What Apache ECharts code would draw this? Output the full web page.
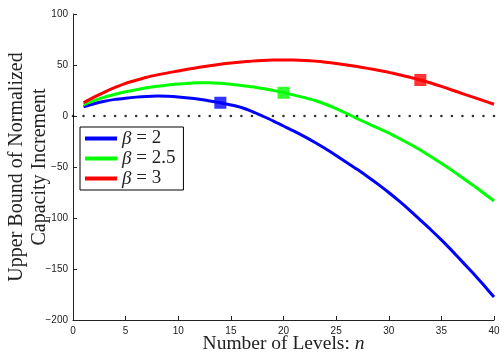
<!DOCTYPE html>
<html>
<head>
<meta charset="utf-8">
<script src="https://cdn.jsdelivr.net/npm/echarts@6/dist/echarts.min.js"></script>
<style>html,body{margin:0;padding:0;background:#fff}#c{width:502px;height:355px}</style>
</head>
<body>
<div id="c"></div>
<script>
var levels = [1,2,3,4,5,6,7,8,9,10,11,12,13,14,15,16,17,18,19,20,21,22,23,24,25,26,27,28,29,30,31,32,33,34,35,36,37,38,39,40];
var beta2 = [9,12,14.5,16.3,17.5,18.5,19.2,19.5,19.3,18.7,17.7,16.4,14.8,13,10.8,8.3,4.5,0,-4.7,-9.8,-14.8,-20.2,-26,-32.2,-38.8,-45.5,-52.3,-59.5,-67,-75,-83.5,-92.5,-102,-111.5,-121.5,-132,-143,-154,-165.5,-177.5];
var beta25 = [11,15,18.5,21.3,23.8,25.8,27.6,29.1,30.3,31.3,32,32.5,32.5,32,31.2,30,28.7,27,25.1,22.8,20.5,18,15.2,11.5,7.3,2.5,-2.5,-7.3,-12,-16.5,-22,-27.5,-33.3,-39.7,-46.4,-53.3,-60.5,-67.8,-75.5,-83.3];
var beta3 = [13,18.5,23.5,28,32,35,38,40.3,42.3,44.2,46,47.7,49.3,50.8,52,53,53.8,54.4,54.8,55,54.9,54.5,53.8,52.8,51.5,50.1,48.5,46.7,44.8,42.8,40.5,38,35.3,32.3,29,25.5,22,18.5,15,11.5];
var seriesNames = ['β = 2', 'β = 2.5', 'β = 3'];
var markerN = [14, 20, 33];
var zeroRefN = [0,1,2,3,4,5,6,7,8,9,10,11,12,13,14,15,16,17,18,19,20,21,22,23,24,25,26,27,28,29,30,31,32,33,34,35,36,37,38,39,40];
var xTicks = [0,5,10,15,20,25,30,35,40];
var yTicks = [-200,-150,-100,-50,0,50,100];
var colors = ['#0000ff', '#00ff00', '#ff0000'];
var allSeries = [beta2, beta25, beta3];

function pairs(xs, ys){ return xs.map(function(x,i){return [x, ys[i]];}); }

var series = [];
series.push({
  type: 'scatter', name: 'zero', data: zeroRefN.map(function(n){return [n, 0];}),
  symbol: 'circle', symbolSize: 2.6, itemStyle: {color: '#000'}, silent: true, z: 1
});
allSeries.forEach(function(vals, i){
  series.push({
    type: 'line', name: seriesNames[i], data: pairs(levels, vals),
    showSymbol: false, symbol: 'none', smooth: 0.2, lineStyle: {width: 3, color: colors[i]},
    itemStyle: {color: colors[i]}, z: 3, animation: false
  });
});
allSeries.forEach(function(vals, i){
  var idx = levels.indexOf(markerN[i]);
  series.push({
    type: 'scatter', name: 'm' + i, data: [[markerN[i], vals[idx]]],
    symbol: 'rect', symbolSize: 12, itemStyle: {color: colors[i]}, z: 4
  });
});

var chart = echarts.init(document.getElementById('c'), null, {renderer: 'canvas'});
var axisColor = '#222';
chart.setOption({
  animation: false,
  backgroundColor: '#fff',
  grid: {left: 73, right: 8, top: 14, bottom: 35, containLabel: false, outerBoundsMode: 'none'},
  legend: {
    data: seriesNames.map(function(n, i){ return {name: n, icon: 'rect', itemStyle: {color: colors[i]}}; }),
    orient: 'vertical', left: 80, top: 127,
    itemWidth: 32, itemHeight: 4, itemGap: 1,
    backgroundColor: '#fff', borderColor: '#000', borderWidth: 1, borderRadius: 0,
    padding: [2, 8, 2, 5],
    selectedMode: false,
    formatter: function(name){
      var rest = name.substring(1);
      return '{b|β}{t|' + rest + '}';
    },
    textStyle: {
      rich: {
        b: {fontFamily: 'Liberation Serif', fontSize: 19, fontStyle: 'italic', color: '#222', lineHeight: 19},
        t: {fontFamily: 'Liberation Serif', fontSize: 19, color: '#222', lineHeight: 19}
      }
    }
  },
  xAxis: {
    type: 'value', min: 0, max: 40, interval: 5,
    name: '{a|Number of Levels: }{i|n}', nameLocation: 'middle', nameGap: 14, nameMoveOverlap: false,
    nameTextStyle: {rich: {
      a: {fontFamily: 'Liberation Serif', fontSize: 19.5, color: '#222'},
      i: {fontFamily: 'Liberation Serif', fontSize: 19.5, fontStyle: 'italic', color: '#222'}
    }},
    axisLine: {show: true, onZero: false, lineStyle: {color: axisColor, width: 1}},
    axisTick: {show: true, inside: true, length: 4, lineStyle: {color: axisColor}},
    axisLabel: {fontFamily: 'Liberation Sans', fontSize: 10, color: '#222', margin: 6,
      formatter: function(v){ return xTicks.indexOf(v) >= 0 ? String(v) : ''; }},
    splitLine: {show: false}
  },
  yAxis: {
    type: 'value', min: -200, max: 100, interval: 50,
    name: 'Upper Bound of Normalized\nCapacity Increment', nameLocation: 'middle', nameGap: 21.5, nameMoveOverlap: false,
    nameTextStyle: {fontFamily: 'Liberation Serif', fontSize: 20, color: '#222', lineHeight: 23},
    axisLine: {show: true, onZero: false, lineStyle: {color: axisColor, width: 1}},
    axisTick: {show: true, inside: true, length: 4, lineStyle: {color: axisColor}},
    axisLabel: {fontFamily: 'Liberation Sans', fontSize: 10, color: '#222', margin: 5,
      formatter: function(v){ return yTicks.indexOf(v) >= 0 ? String(v).replace('-', '\u2212') : ''; }},
    splitLine: {show: false}
  },
  series: series
});
</script>
</body>
</html>
